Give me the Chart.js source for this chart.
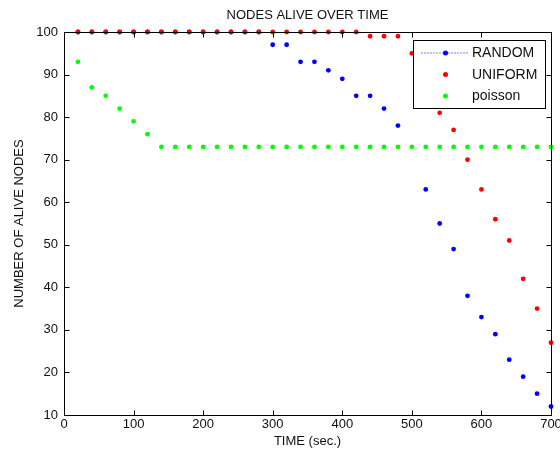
<!DOCTYPE html>
<html lang="en">
<head>
<meta charset="utf-8">
<title>Nodes alive over time</title>
<style>
    html, body { margin: 0; padding: 0; background: #fff; }
</style>
</head>
<body>
<canvas id="nodesChart" width="560" height="457"></canvas>

<script src="https://cdn.jsdelivr.net/npm/chart.js"></script>
<script>
    // time axis, one sample every 20 s
    var timeSec = [20, 40, 60, 80, 100, 120, 140, 160, 180, 200, 220, 240, 260, 280,
                   300, 320, 340, 360, 380, 400, 420, 440, 460, 480, 500, 520, 540,
                   560, 580, 600, 620, 640, 660, 680, 700];

    // alive nodes per deployment
    var randomAlive = [100, 100, 100, 100, 100, 100, 100, 100, 100, 100, 100, 100, 100, 100,
                       97, 97, 93, 93, 91, 89, 85, 85, 82, 78, null, 63, 55,
                       49, 38, 33, 29, 23, 19, 15, 12];
    var uniformAlive = [100, 100, 100, 100, 100, 100, 100, 100, 100, 100, 100, 100, 100, 100,
                        100, 100, 100, 100, 100, 100, 100, 99, 99, 99, 95, 88, 81,
                        77, 70, 63, 56, 51, 42, 35, 27];
    var poissonAlive = [93, 87, 85, 82, 79, 76, 73, 73, 73, 73, 73, 73, 73, 73,
                        73, 73, 73, 73, 73, 73, 73, 73, 73, 73, 73, 73, 73,
                        73, 73, 73, 73, 73, 73, 73, 73];

    var xTicks = [0, 100, 200, 300, 400, 500, 600, 700];
    var yTicks = [10, 20, 30, 40, 50, 60, 70, 80, 90, 100];

    function toPoints(vals) {
        var pts = [];
        for (var i = 0; i < timeSec.length; i++) {
            pts.push({ x: timeSec[i], y: vals[i] });
        }
        return pts;
    }

    var axisFont = { family: 'Liberation Sans, Arial, sans-serif', size: 13 };

    // matlab style box, inward ticks and legend inside the axes
    var matlabBox = {
        id: 'matlabBox',
        afterDatasetsDraw: function (chart) {
            var ctx = chart.ctx, a = chart.chartArea;
            var xs = chart.scales.x, ys = chart.scales.y;
            var l = Math.round(a.left) + 0.5, r = Math.round(a.right) + 0.5;
            var t = Math.round(a.top) + 0.5, b = Math.round(a.bottom) + 0.5;
            ctx.save();
            ctx.strokeStyle = '#000';
            ctx.lineWidth = 1;
            ctx.strokeRect(l, t, r - l, b - t);

            ctx.beginPath();
            xs.ticks.forEach(function (tk) {
                var px = Math.round(xs.getPixelForValue(tk.value)) + 0.5;
                ctx.moveTo(px, b); ctx.lineTo(px, b - 5);
                ctx.moveTo(px, t); ctx.lineTo(px, t + 5);
            });
            ys.ticks.forEach(function (tk) {
                var py = Math.round(ys.getPixelForValue(tk.value)) + 0.5;
                ctx.moveTo(l, py); ctx.lineTo(l + 5, py);
                ctx.moveTo(r, py); ctx.lineTo(r - 5, py);
            });
            ctx.stroke();

            // legend
            var bw = 132, bh = 68;
            var bx = Math.round(a.right) - 6 - bw + 0.5, by = Math.round(a.top) + 8 + 0.5;
            ctx.fillStyle = '#fff';
            ctx.fillRect(bx, by, bw, bh);
            ctx.strokeRect(bx, by, bw, bh);
            ctx.font = '14px Liberation Sans, Arial, sans-serif';
            ctx.textBaseline = 'middle';
            chart.data.datasets.forEach(function (ds, i) {
                var ry = by + 12.5 + i * 21.5;
                if (ds.legendDash) {
                    ctx.save();
                    ctx.strokeStyle = ds.backgroundColor;
                    ctx.setLineDash(ds.legendDash);
                    ctx.beginPath();
                    ctx.moveTo(bx + 8, ry); ctx.lineTo(bx + 55, ry);
                    ctx.stroke();
                    ctx.restore();
                }
                ctx.fillStyle = ds.backgroundColor;
                ctx.beginPath();
                ctx.arc(bx + 32, ry, 2.5, 0, Math.PI * 2);
                ctx.fill();
                ctx.fillStyle = '#111';
                ctx.fillText(ds.label, bx + 58.5, ry + 0.5);
            });
            ctx.restore();
        }
    };

    var ctx = document.getElementById('nodesChart').getContext('2d');
    var nodesChart = new Chart(ctx, {
        type: 'scatter',
        data: {
            datasets: [{
                label: 'RANDOM',
                data: toPoints(randomAlive),
                backgroundColor: '#0000ff',
                legendDash: [1, 2],
                order: 2
            }, {
                label: 'UNIFORM',
                data: toPoints(uniformAlive),
                backgroundColor: '#ff0000',
                order: 1
            }, {
                label: 'poisson',
                data: toPoints(poissonAlive),
                backgroundColor: '#00ff00',
                order: 3
            }]
        },
        options: {
            responsive: false,
            animation: false,
            clip: false,
            layout: { padding: { left: 0, right: 9, top: 0, bottom: 0 } },
            elements: {
                point: { radius: 2.4, borderWidth: 0, hoverRadius: 2.4, pointStyle: 'circle' }
            },
            plugins: {
                legend: { display: false },
                tooltip: { enabled: false },
                title: {
                    display: true,
                    fullSize: false,
                    text: 'NODES ALIVE OVER TIME',
                    color: '#111',
                    font: { family: axisFont.family, size: 13, weight: 'normal' },
                    padding: { top: 7.5, bottom: 8.9 }
                }
            },
            scales: {
                x: {
                    type: 'linear',
                    min: 0,
                    max: 700,
                    afterBuildTicks: function (s) { s.ticks = xTicks.map(function (v) { return { value: v }; }); },
                    afterFit: function (s) { s.height = 42; s.paddingRight = 9; s.paddingLeft = 0; },
                    grid: { display: false, drawTicks: false },
                    border: { display: false },
                    ticks: { color: '#111', font: axisFont, padding: 2, maxRotation: 0 },
                    title: { display: true, text: 'TIME (sec.)', color: '#111', font: axisFont, padding: { top: 2, bottom: 8 } }
                },
                y: {
                    type: 'linear',
                    min: 10,
                    max: 100,
                    afterBuildTicks: function (s) { s.ticks = yTicks.map(function (v) { return { value: v }; }); },
                    afterFit: function (s) { s.width = 64; },
                    grid: { display: false, drawTicks: false },
                    border: { display: false },
                    ticks: { color: '#111', font: axisFont, padding: 6 },
                    title: { display: true, text: 'NUMBER OF ALIVE NODES', color: '#111', font: axisFont, padding: { top: 12, bottom: 0 } }
                }
            }
        },
        plugins: [matlabBox]
    });
</script>
</body>
</html>
